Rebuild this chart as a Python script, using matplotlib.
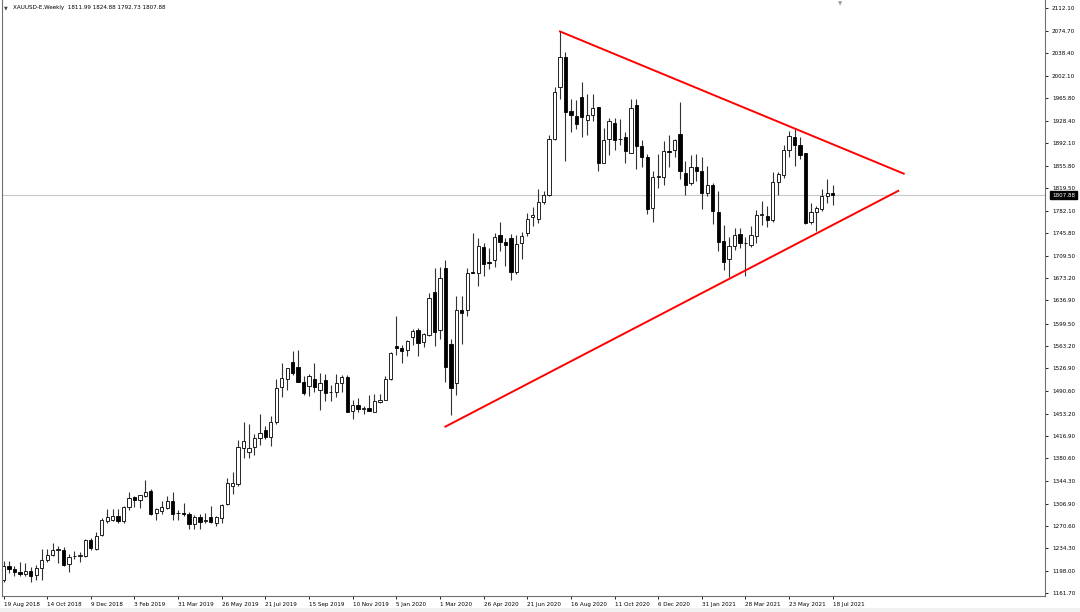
import matplotlib

matplotlib.use("Agg")
import matplotlib.pyplot as plt
import matplotlib.transforms as mtransforms
from matplotlib.patches import Rectangle
import pandas as pd

# XAUUSD weekly candles (week starting 19 Aug 2018 -> 18 Jul 2021)
symbol_title = "XAUUSD-E,Weekly  1811.99 1824.88 1792.73 1807.88"
first_week = "2018-08-19"

opens = [
    1183, 1205, 1200, 1195, 1192, 1197, 1191, 1202, 1216, 1224,
    1232, 1231, 1209, 1221, 1222, 1221, 1248, 1233, 1256, 1278,
    1281, 1286, 1278, 1301, 1317, 1313, 1319, 1328, 1292, 1295,
    1300, 1311, 1291, 1291, 1290, 1274, 1285, 1279, 1285, 1275,
    1284, 1306, 1335, 1339, 1398, 1391, 1399, 1413, 1426, 1415,
    1440, 1497, 1509, 1537, 1529, 1505, 1498, 1510, 1492, 1508,
    1488, 1489, 1503, 1512, 1458, 1467, 1461, 1462, 1456, 1472,
    1476, 1510, 1563, 1559, 1556, 1578, 1589, 1570, 1581, 1651,
    1589, 1689, 1567, 1503, 1621, 1621, 1683, 1681, 1723, 1699,
    1702, 1743, 1732, 1738, 1684, 1730, 1747, 1772, 1770, 1797,
    1808, 1900, 1984, 2033, 1945, 1936, 1967, 1930, 1938, 1951,
    1861, 1900, 1926, 1899, 1903, 1876, 1954, 1888, 1870, 1787,
    1838, 1838, 1880, 1882, 1907, 1844, 1827, 1854, 1848, 1812,
    1825, 1781, 1734, 1704, 1725, 1745, 1731, 1727, 1741, 1776,
    1774, 1767, 1830, 1841, 1881, 1903, 1889, 1876, 1765, 1780,
    1785, 1806, 1811.99,
]
highs = [
    1214, 1214, 1206, 1212, 1211, 1204, 1207, 1233, 1233, 1243,
    1238, 1237, 1225, 1230, 1229, 1250, 1251, 1261, 1284, 1298,
    1298, 1298, 1303, 1326, 1319, 1321, 1346, 1330, 1299, 1311,
    1320, 1325, 1297, 1308, 1293, 1288, 1290, 1291, 1303, 1287,
    1306, 1348, 1358, 1411, 1439, 1437, 1420, 1452, 1433, 1449,
    1510, 1535, 1528, 1555, 1557, 1515, 1518, 1535, 1519, 1517,
    1499, 1518, 1516, 1516, 1475, 1478, 1465, 1484, 1485, 1485,
    1514, 1553, 1611, 1564, 1573, 1591, 1592, 1584, 1649, 1689,
    1692, 1703, 1575, 1645, 1645, 1690, 1746, 1738, 1731, 1722,
    1746, 1765, 1738, 1745, 1744, 1748, 1779, 1789, 1818, 1815,
    1906, 1984, 2075, 2041, 1964, 1962, 1992, 1972, 1973, 1952,
    1917, 1933, 1933, 1931, 1911, 1965, 1965, 1898, 1875, 1848,
    1875, 1896, 1906, 1900, 1959, 1864, 1874, 1875, 1870, 1855,
    1827, 1815, 1760, 1740, 1755, 1755, 1740, 1758, 1784, 1798,
    1790, 1845, 1845, 1890, 1913, 1916, 1903, 1877, 1795, 1790,
    1818, 1834, 1824.88,
]
lows = [
    1180, 1194, 1190, 1190, 1190, 1180, 1183, 1183, 1212, 1221,
    1211, 1206, 1196, 1217, 1212, 1220, 1232, 1232, 1254, 1276,
    1279, 1276, 1276, 1297, 1302, 1299, 1318, 1288, 1281, 1290,
    1298, 1281, 1281, 1287, 1266, 1266, 1266, 1275, 1275, 1270,
    1276, 1305, 1322, 1335, 1381, 1381, 1386, 1402, 1412, 1400,
    1437, 1480, 1491, 1516, 1505, 1484, 1482, 1489, 1459, 1474,
    1474, 1480, 1488, 1456, 1445, 1456, 1452, 1458, 1456, 1470,
    1476, 1508, 1548, 1536, 1547, 1564, 1547, 1562, 1580, 1563,
    1575, 1504, 1451, 1483, 1567, 1612, 1681, 1660, 1676, 1688,
    1692, 1717, 1693, 1670, 1680, 1704, 1742, 1758, 1763, 1793,
    1806, 1898, 1964, 1863, 1911, 1915, 1902, 1906, 1929, 1848,
    1860, 1873, 1882, 1890, 1860, 1876, 1850, 1853, 1778, 1764,
    1820, 1825, 1853, 1870, 1835, 1808, 1825, 1831, 1785, 1807,
    1761, 1717, 1687, 1675, 1719, 1722, 1676, 1723, 1731, 1760,
    1756, 1765, 1808, 1836, 1870, 1855, 1866, 1761, 1761, 1750,
    1783, 1795, 1792.73,
]
closes = [
    1205, 1200, 1195, 1193, 1197, 1190, 1202, 1216, 1224, 1231,
    1233, 1207, 1220, 1222, 1223, 1248, 1234, 1254, 1280, 1285,
    1287, 1279, 1301, 1316, 1313, 1321, 1325, 1290, 1298, 1302,
    1311, 1290, 1292, 1290, 1274, 1285, 1277, 1281, 1277, 1285,
    1305, 1340, 1341, 1399, 1408, 1397, 1413, 1422, 1415, 1440,
    1495, 1511, 1527, 1519, 1504, 1486, 1514, 1496, 1503, 1487,
    1489, 1503, 1513, 1456, 1467, 1460, 1462, 1458, 1474, 1476,
    1510, 1551, 1560, 1555, 1571, 1588, 1568, 1582, 1641, 1585,
    1673, 1529, 1495, 1622, 1616, 1681, 1682, 1725, 1697, 1698,
    1740, 1732, 1727, 1684, 1729, 1741, 1769, 1775, 1797, 1808,
    1900, 1975, 2033, 1943, 1938, 1924, 1935, 1938, 1949, 1860,
    1897, 1929, 1897, 1900, 1879, 1949, 1888, 1870, 1785, 1838,
    1839, 1879, 1878, 1897, 1848, 1825, 1854, 1848, 1812, 1825,
    1783, 1732, 1700, 1725, 1743, 1731, 1730, 1743, 1776, 1777,
    1768, 1830, 1843, 1881, 1904, 1889, 1873, 1762, 1780, 1787,
    1806, 1811, 1807.88,
]

price_ticks = [
    2112.10, 2074.70, 2038.40, 2002.10, 1965.80, 1928.40, 1892.10, 1855.80,
    1819.50, 1782.10, 1745.80, 1709.50, 1673.20, 1636.90, 1599.50, 1563.20,
    1526.90, 1490.60, 1453.20, 1416.90, 1380.60, 1344.30, 1306.90, 1270.60,
    1234.30, 1198.00, 1161.70,
]
last_price = 1807.88

# hand-drawn triangle trend lines (bar index, price)
upper_line_x = [102, 165]
upper_line_y = [2074, 1843]
lower_line_x = [81, 164]
lower_line_y = [1432, 1815]

weeks = pd.date_range(first_week, periods=len(opens), freq="7D")
date_labels = [f"{d.day} {d:%b %Y}" for d in weeks]
label_every = 8

font_size = 4.1

fig = plt.figure(figsize=(10.8, 6.12), dpi=100)
ax = fig.add_axes([2 / 1080, 16 / 612, 1043 / 1080, 596 / 612])
ax.set_xlim(-0.275, 190.9)
ax.set_ylim(1156.8, 2125.1)

xs = list(range(len(opens)))
bottoms = [min(o, c) for o, c in zip(opens, closes)]
heights = [max(abs(c - o), 0.9) for o, c in zip(opens, closes)]
faces = ["white" if c >= o else "black" for o, c in zip(opens, closes)]

ax.axhline(last_price, color="#c8c8c8", linewidth=0.8, zorder=0)
ax.vlines(xs, lows, highs, color="#333333", linewidth=0.8, zorder=1)
ax.bar(xs, heights, bottom=bottoms, width=0.6, color=faces,
       edgecolor="black", linewidth=0.6, zorder=2)

ax.plot(upper_line_x, upper_line_y, color="#ff0000", linewidth=1.4, zorder=3)
ax.plot(lower_line_x, lower_line_y, color="#ff0000", linewidth=1.4, zorder=3)

# price axis on the right, MT4 style
ax.yaxis.tick_right()
ax.set_yticks(price_ticks)
ax.set_yticklabels([f"{p:.2f}" for p in price_ticks])
ax.tick_params(axis="y", direction="out", length=2.5, width=0.6, pad=2.5,
               labelsize=font_size, colors="black")

tick_idx = list(range(0, len(opens), label_every))
ax.set_xticks(tick_idx)
ax.set_xticklabels([date_labels[i] for i in tick_idx])
ax.tick_params(axis="x", direction="out", length=2.5, width=0.6, pad=1.5,
               labelsize=font_size, colors="black")
for label in ax.get_xticklabels():
    label.set_horizontalalignment("left")

for side in ("left", "bottom", "right"):
    ax.spines[side].set_color("#707070")
    ax.spines[side].set_linewidth(0.8)
ax.spines["top"].set_visible(False)

# current price tag on the price scale
trans = mtransforms.blended_transform_factory(ax.transAxes, ax.transData)
ax.text(1.0 + 7 / 1043, last_price, f"{last_price:.2f}", transform=trans,
        fontsize=font_size, color="white", ha="left", va="center",
        bbox=dict(boxstyle="square,pad=0.3", facecolor="black", edgecolor="black"))

fig.text(4 / 1080, 1 - 8 / 612, "\u25bc", fontsize=3.5, color="#404040", va="center")
fig.text(13 / 1080, 1 - 8 / 612, symbol_title, fontsize=font_size, va="center")
fig.text(840 / 1080, 1 - 1 / 612, "\u25bc", fontsize=4, color="#a0a0a0",
         ha="center", va="top")

fig.patches.append(Rectangle((0, 0), 1, 4 / 612, transform=fig.transFigure,
                             facecolor="#f0f0f0", edgecolor="none"))

fig.savefig("out.png", dpi=100)
plt.close(fig)
